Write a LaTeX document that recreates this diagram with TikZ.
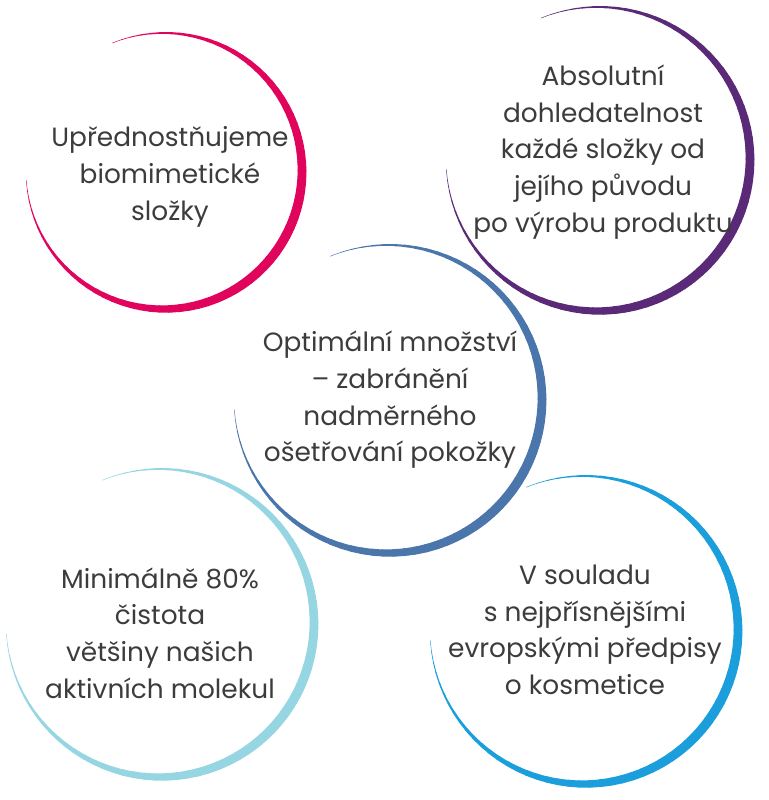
\documentclass[tikz,border=0pt]{standalone}
\usepackage{fontspec}
\setmainfont{Poppins}
\usetikzlibrary{positioning,calc}
\definecolor{pinkring}{HTML}{E0045C}
\definecolor{purplering}{HTML}{5A2A78}
\definecolor{bluering}{HTML}{4A76AC}
\definecolor{cyanring}{HTML}{96D5E2}
\definecolor{skyring}{HTML}{1A9EDC}
\definecolor{textgray}{HTML}{3C3C3C}

% tapered ring: #1 centre, #2 radius in px, #3 colour
\newcommand{\taperring}[3]{%
  \pgfmathsetmacro{\rr}{0.75*#2}
  \foreach \i in {0,...,71} {
    \pgfmathsetmacro{\aa}{112-4*\i}
    \pgfmathsetmacro{\ab}{112-4*(\i+1)}
    \pgfmathsetmacro{\lw}{0.3+6.8*sin(180*(\i+0.5)/72)^1.3}
    \draw [#3, line width=\lw pt, line cap=round]
      ($(#1)+(\aa:\rr pt)$) arc [start angle=\aa, end angle=\ab, radius=\rr pt];
  }}

\begin{document}
\begin{tikzpicture}[x=0.75pt, y=-0.75pt]
    % Define styles
    \tikzstyle{label}=[text=textgray, align=center, font=\fontsize{19.8}{27.5}\selectfont]

    \useasboundingbox (0,0) rectangle (768,800);

    % Ring centres
    \coordinate (pinkc) at (164,171);
    \coordinate (purplec) at (598,159);
    \coordinate (bluec) at (388,399);
    \coordinate (cyanc) at (160,623);
    \coordinate (skyc) at (584,630);

    % Rings
    \taperring{pinkc}{138}{pinkring}
    \taperring{purplec}{152}{purplering}
    \taperring{bluec}{154}{bluering}
    \taperring{cyanc}{154}{cyanring}
    \taperring{skyc}{154}{skyring}

    % Texts
    \node [label] (pinktext) at (170,177) {Upřednostňujeme\\biomimetické\\složky};
    \node [label] (purpletext) at (603,152) {Absolutní\\dohledatelnost\\každé složky od\\jejího původu\\po výrobu produktu};
    \node [label] (bluetext) at (390,400) {Optimální množství\\– zabránění\\nadměrného\\ošetřování pokožky};
    \node [label] (cyantext) at (160,633) {Minimálně 80\%\\čistota\\většiny našich\\aktivních molekul};
    \node [label] (skytext) at (585,630) {V souladu\\s nejpřísnějšími\\evropskými předpisy\\o kosmetice};
\end{tikzpicture}
\end{document}
